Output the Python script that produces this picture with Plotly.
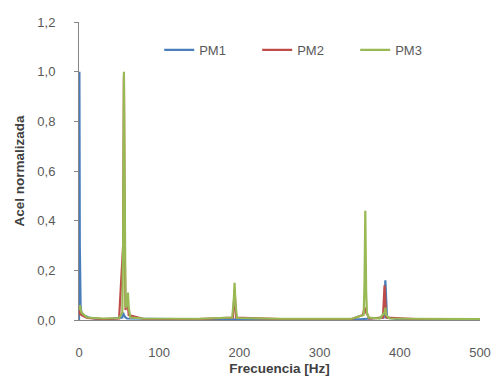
import plotly.graph_objects as go

# PM1 spectrum (normalized acceleration)
pm1_freq = [0, 0.5, 1, 2, 3, 5, 8, 12, 20, 40, 54, 55, 56, 58, 60, 100, 150, 200, 250, 300, 350, 380, 382, 384, 400, 450, 500]
pm1_acel = [0.0, 1.0, 0.30, 0.06, 0.03, 0.02, 0.015, 0.01, 0.005, 0.004, 0.01, 0.03, 0.02, 0.01, 0.006, 0.004, 0.003, 0.003, 0.003, 0.002, 0.003, 0.01, 0.16, 0.01, 0.002, 0.002, 0.002]

# PM2 spectrum
pm2_freq = [0, 1, 3, 10, 30, 50, 55, 56, 57, 58, 60, 62, 80, 150, 192, 194, 196, 250, 340, 354, 356, 358, 360, 362, 379, 381, 383, 420, 500]
pm2_acel = [0.02, 0.04, 0.02, 0.008, 0.004, 0.006, 0.3, 0.98, 0.3, 0.04, 0.09, 0.02, 0.005, 0.004, 0.01, 0.12, 0.01, 0.004, 0.004, 0.02, 0.05, 0.03, 0.02, 0.006, 0.01, 0.14, 0.01, 0.004, 0.003]

# PM3 spectrum
pm3_freq = [0, 1, 3, 10, 30, 50, 54, 55, 56, 57, 58, 60, 61, 62, 64, 80, 150, 191, 193, 194, 195, 197, 250, 340, 355, 356, 357, 358, 359, 361, 375, 381, 382, 383, 387, 420, 500]
pm3_acel = [0.04, 0.06, 0.03, 0.01, 0.006, 0.008, 0.03, 0.3, 1.0, 0.3, 0.05, 0.06, 0.11, 0.05, 0.01, 0.006, 0.005, 0.01, 0.08, 0.15, 0.07, 0.008, 0.005, 0.005, 0.02, 0.15, 0.44, 0.12, 0.03, 0.01, 0.006, 0.03, 0.05, 0.02, 0.006, 0.005, 0.004]

series = [
    ("PM1", pm1_freq, pm1_acel, "#4A7EBB"),
    ("PM2", pm2_freq, pm2_acel, "#BE4B48"),
    ("PM3", pm3_freq, pm3_acel, "#98B954"),
]

fig = go.Figure()
for name, fx, fy, col in series:
    fig.add_trace(go.Scatter(x=fx, y=fy, mode="lines", name=name,
                             line=dict(color=col, width=2.2)))

fig.update_layout(
    width=493, height=383,
    margin=dict(l=79, r=13, t=22, b=63),
    paper_bgcolor="white", plot_bgcolor="white",
    separators=", ",
    font=dict(family="Liberation Sans, Arial", size=13, color="#595959"),
    showlegend=True,
    legend=dict(orientation="h", x=0.2, xanchor="left", y=0.906, yanchor="middle",
                bgcolor="rgba(0,0,0,0)", font=dict(size=13, color="#595959"),
                entrywidth=53, entrywidthmode="pixels"),
    xaxis=dict(range=[0, 500], tickvals=[0, 100, 200, 300, 400, 500],
               showgrid=False, zeroline=False, showline=True, linecolor="#868686",
               ticks="", ticklabelstandoff=20, automargin=False,
               title=dict(text="<b>Frecuencia [Hz]</b>", standoff=4,
                          font=dict(size=13.5, color="#404040"))),
    yaxis=dict(range=[0, 1.2], tickvals=[0, 0.2, 0.4, 0.6, 0.8, 1.0, 1.2], tickformat=".1f",
               showgrid=False, zeroline=False, showline=True, linecolor="#868686",
               ticks="outside", ticklen=4, tickcolor="#868686",
               ticklabelstandoff=16, automargin=False,
               title=dict(text="<b>Acel normalizada</b>", standoff=9,
                          font=dict(size=13.5, color="#404040"))),
)

fig.write_html("out.html", post_script="document.body.style.margin='0';",
               config={"displayModeBar": False})
